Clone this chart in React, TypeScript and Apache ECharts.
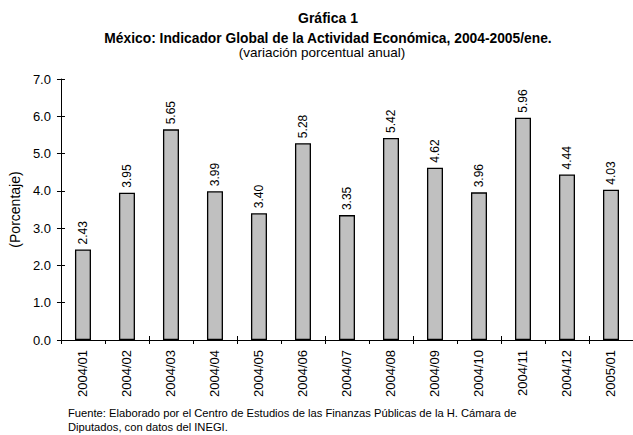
import React, { useEffect, useRef } from "react";
import * as echarts from "echarts";

const categories = [
  "2004/01", "2004/02", "2004/03", "2004/04", "2004/05", "2004/06", "2004/07",
  "2004/08", "2004/09", "2004/10", "2004/11", "2004/12", "2005/01",
];
const values = [2.43, 3.95, 5.65, 3.99, 3.4, 5.28, 3.35, 5.42, 4.62, 3.96, 5.96, 4.44, 4.03];
const yTicks = [0, 1, 2, 3, 4, 5, 6, 7];

const FONT = "'Liberation Sans', Arial, sans-serif";

export default function App() {
  const ref = useRef<HTMLDivElement>(null);
  useEffect(() => {
    if (!ref.current) return;
    const chart = echarts.init(ref.current, null, { renderer: "svg" });
    chart.setOption({
      animation: false,
      backgroundColor: "#ffffff",
      textStyle: { fontFamily: FONT, color: "#000" },
      title: [
        {
          text: "Gráfica 1",
          left: 323, top: 6, textAlign: "center",
          textStyle: { fontFamily: FONT, fontSize: 14, fontWeight: "bold", color: "#000" },
        },
        {
          text: "México: Indicador Global de la Actividad Económica, 2004-2005/ene.",
          left: 323, top: 26, textAlign: "center",
          textStyle: { fontFamily: FONT, fontSize: 13.8, fontWeight: "bold", color: "#000" },
        },
        {
          text: "(variación porcentual anual)",
          left: 317, top: 40, textAlign: "center",
          textStyle: { fontFamily: FONT, fontSize: 13.5, fontWeight: "normal", color: "#000" },
        },
      ],
      graphic: [
        {
          type: "text", left: 68, top: 406,
          style: {
            text: "Fuente: Elaborado por el Centro de Estudios de las Finanzas Públicas de la H. Cámara de\nDiputados, con datos del INEGI.",
            font: `11.2px ${FONT}`, fill: "#000", lineHeight: 14,
          },
        },
      ],
      grid: { left: 53, top: 79, width: 585, height: 261, containLabel: false },
      xAxis: [
        {
          type: "category",
          data: categories,
          axisLine: { lineStyle: { color: "#000", width: 1 } },
          axisTick: { show: true, alignWithLabel: false, length: 4, lineStyle: { color: "#000" } },
          axisLabel: { rotate: 90, margin: 10, fontSize: 13, color: "#000", fontFamily: FONT, interval: 0 },
        },
        {
          type: "category",
          data: categories,
          position: "bottom",
          axisLine: { show: false },
          axisTick: { show: true, inside: true, alignWithLabel: false, length: 4, lineStyle: { color: "#000" } },
          axisLabel: { show: false },
        },
      ],
      yAxis: [
        {
          type: "value",
          min: 0, max: 7, interval: 1,
          name: "(Porcentaje)",
          nameLocation: "middle",
          nameRotate: 90,
          nameGap: 33,
          nameTextStyle: { fontSize: 14, color: "#000", fontFamily: FONT },
          axisLine: { show: true, lineStyle: { color: "#000", width: 1 } },
          axisTick: { show: true, length: 4, lineStyle: { color: "#000" } },
          splitLine: { show: false },
          axisLabel: {
            margin: 10, fontSize: 13, color: "#000", fontFamily: FONT,
            formatter: (v: number) => (yTicks.includes(v) ? v.toFixed(1) : ""),
          },
        },
        {
          type: "value",
          min: 0, max: 7, interval: 1,
          position: "left",
          axisLine: { show: false },
          axisTick: { show: true, inside: true, length: 4, lineStyle: { color: "#000" } },
          splitLine: { show: false },
          axisLabel: { show: false },
        },
      ],
      series: [
        {
          type: "bar",
          data: values,
          barWidth: 16,
          itemStyle: { color: "#c0c0c0", borderColor: "#000", borderWidth: 1.3 },
          label: {
            show: true,
            position: "top",
            rotate: 90,
            align: "left",
            verticalAlign: "middle",
            distance: 5,
            fontSize: 12,
            color: "#000",
            fontFamily: FONT,
            formatter: (p: any) => Number(p.value).toFixed(2),
          },
        },
      ],
    });
    return () => chart.dispose();
  }, []);
  return (
    <div
      ref={ref}
      style={{ position: "fixed", left: 0, top: 0, width: 633, height: 435 }}
    />
  );
}
